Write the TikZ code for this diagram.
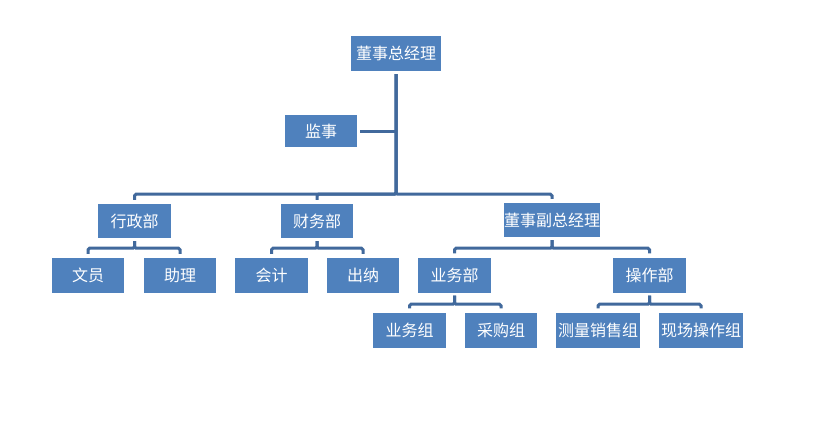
\documentclass[tikz,border=0pt]{standalone}
\usepackage{fontspec}
\newfontfamily\cjk{Noto Sans CJK SC}
\definecolor{boxblue}{HTML}{4F81BD}
\definecolor{linkblue}{HTML}{41699C}
\begin{document}
\begin{tikzpicture}[x=1pt,y=-1pt,
 box/.style={fill=boxblue, text=white, font=\cjk\fontsize{16}{18}\selectfont, inner sep=0pt, minimum height=35pt, minimum width=72pt},
 link/.style={draw=linkblue, line width=3pt, rounded corners=1.5pt, shorten <=3pt, shorten >=4pt}]
\path[fill=white] (0,0) rectangle (818,425);
\node[box, minimum width=90pt] (top) at (396,53.5) {董事总经理};
\node[box, minimum height=32pt] (js) at (321,131) {监事};
\node[box, minimum height=34pt, minimum width=73pt] (xz) at (134.5,221) {行政部};
\node[box, minimum height=34pt] (cw) at (317,221) {财务部};
\node[box, minimum height=34pt, minimum width=96pt] (fz) at (552,220) {董事副总经理};
\node[box] (wy) at (88,275.5) {文员};
\node[box] (zl) at (180,275.5) {助理};
\node[box, minimum width=73pt] (kj) at (271.5,275.5) {会计};
\node[box] (cn) at (363,275.5) {出纳};
\node[box, minimum width=73pt] (ywb) at (454.5,275) {业务部};
\node[box, minimum width=73pt] (czb) at (649.5,275) {操作部};
\node[box, minimum width=73pt] (ywz) at (409.5,330) {业务组};
\node[box] (cgz) at (501,330) {采购组};
\node[box, minimum width=84pt] (cl) at (598,330) {测量销售组};
\node[box, minimum width=84pt] (xc) at (701,330) {现场操作组};
% top trunk
\coordinate (jsj) at (js.east -| top.south);
\draw[link] (top.south) -- ++(0,123) -| (xz.north);
\draw[link] (top.south) -- ++(0,123) -| (cw.north);
\draw[link] (top.south) -- ++(0,123) -| (fz.north);
\draw[draw=linkblue, line width=3pt, shorten >=3pt] (jsj) -- (js.east);
% level 2
\draw[link] (xz.south) -- ++(0,10) -| (wy.north);
\draw[link] (xz.south) -- ++(0,10) -| (zl.north);
\draw[link] (cw.south) -- ++(0,10) -| (kj.north);
\draw[link] (cw.south) -- ++(0,10) -| (cn.north);
\draw[link] (fz.south) -- ++(0,11) -| (ywb.north);
\draw[link] (fz.south) -- ++(0,11) -| (czb.north);
% level 3
\draw[link] (ywb.south) -- ++(0,11.5) -| (ywz.north);
\draw[link] (ywb.south) -- ++(0,11.5) -| (cgz.north);
\draw[link] (czb.south) -- ++(0,11.5) -| (cl.north);
\draw[link] (czb.south) -- ++(0,11.5) -| (xc.north);
\end{tikzpicture}
\end{document}
